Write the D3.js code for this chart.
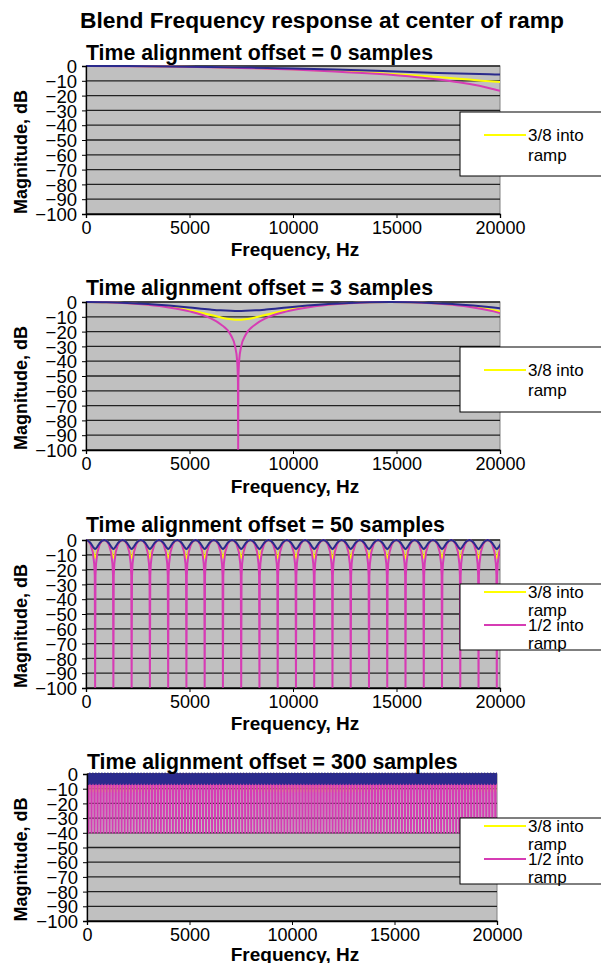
<!DOCTYPE html>
<html>
<head>
<meta charset="utf-8">
<script src="https://cdn.jsdelivr.net/npm/d3@7"></script>
<style>
  body { margin: 0; background: #fff; }
  svg { display: block; }
  text { font-family: "Liberation Sans", Arial, sans-serif; fill: #000; }
</style>
</head>
<body>
<script>
// ---- data ----
const mainTitle = "Blend Frequency response at center of ramp";
const panelTitles = [
  "Time alignment offset = 0 samples",
  "Time alignment offset = 3 samples",
  "Time alignment offset = 50 samples",
  "Time alignment offset = 300 samples"
];
const freqTicks = [0, 5000, 10000, 15000, 20000];
const dbTicks = [0, -10, -20, -30, -40, -50, -60, -70, -80, -90, -100];
const xTitle = "Frequency, Hz";
const yTitle = "Magnitude, dB";

// offset 0 panel
const freq0 = [0, 2000, 4000, 6000, 8000, 10000, 12000, 14000, 16000, 17000, 18000, 19000, 19500, 20000];
const blue0 = [0, -0.07, -0.27, -0.6, -1.07, -1.68, -2.42, -3.27, -4.19, -4.65, -5.08, -5.46, -5.63, -5.8];
const yellow0 = [0, -0.08, -0.33, -0.76, -1.38, -2.22, -3.31, -4.71, -6.46, -7.48, -8.59, -9.78, -10.35, -10.85];
const magenta0 = [0, -0.09, -0.36, -0.82, -1.5, -2.42, -3.66, -5.31, -7.58, -9.07, -10.91, -13.41, -14.99, -16.8];

// offset 3 panel
const freq3 = [0, 1000, 2000, 3000, 4000, 5000, 6000, 6500, 7000, 7200, 7300, 7340, 7350, 7360, 7400, 7500, 7700,
  8200, 8700, 9700, 10700, 11700, 12700, 13700, 14700, 15700, 16700, 17700, 18700, 19700, 20000];
const blue3 = [0, -0.15, -0.6, -1.36, -2.42, -3.73, -5.08, -5.63, -5.95, -6.01, -6.02, -6.02, -6.02, -6.02, -6.02, -6.01, -5.95,
  -5.63, -5.08, -3.73, -2.42, -1.36, -0.6, -0.15, 0, -0.15, -0.6, -1.36, -2.42, -3.73, -4.15];
const yellow3 = [0, -0.19, -0.76, -1.77, -3.31, -5.53, -8.59, -10.35, -11.69, -11.97, -12.04, -12.04, -12.04, -12.04, -12.04, -11.97, -11.69,
  -10.35, -8.59, -5.53, -3.31, -1.77, -0.76, -0.19, 0, -0.19, -0.76, -1.77, -3.31, -5.53, -6.37];
const magenta3 = [0, -0.2, -0.82, -1.92, -3.66, -6.35, -10.91, -14.99, -22.48, -29.87, -39.4, -53.4, -100, -53.4, -39.4, -29.87, -22.48,
  -14.99, -10.91, -6.35, -3.66, -1.92, -0.82, -0.2, 0, -0.2, -0.82, -1.92, -3.66, -6.35, -7.46];

// offset 50 panel: one comb period (882 Hz), repeated across the band
const period50 = 882;
const phase50 = [0, 0.125, 0.25, 0.375, 0.45, 0.48, 0.5, 0.52, 0.55, 0.625, 0.75, 0.875];
const blue50 = [0, -0.5, -2.04, -4.44, -5.71, -5.97, -6.02, -5.97, -5.71, -4.44, -2.04, -0.5];
const yellow50 = [0, -0.64, -2.75, -6.99, -10.69, -11.79, -12.04, -11.79, -10.69, -6.99, -2.75, -0.64];
const magenta50 = [0, -0.69, -3.01, -8.34, -16.11, -24.04, -100, -24.04, -16.11, -8.34, -3.01, -0.69];

// offset 300 panel: comb period 147 Hz, notches bottom out near -40 dB
const period300 = 147;
const phase300 = [0, 0.25, 0.4, 0.5, 0.6, 0.75];
const blue300 = [0, -2.5, -5, -6.5, -5, -2.5];
const yellow300 = [0, -2.75, -7, -12, -7, -2.75];
const magenta300 = [0, -3, -10, -40, -10, -3];

const legendLabels = ["3/8 into ramp", "1/2 into ramp"];

// ---- helpers ----
const zip = (xs, ys) => xs.map((x, i) => [x, ys[i]]);
function tile(period, phases, values, maxF) {
  const pts = [];
  for (let k = 0; k * period <= maxF + period; k++) {
    phases.forEach((p, i) => pts.push([(k + p) * period, values[i]]));
  }
  return pts;
}

const colors = { yellow: "#ffff00", magenta: "#d63cb4", blue: "#2a2a8c" };

const panels = [
  { top: 66, bottom: 214, left: 86, right: 500, titleY: 53, legTop: 112, legBottom: 176, legend: 1, xtY: 35,
    yellow: zip(freq0, yellow0), magenta: zip(freq0, magenta0), blue: zip(freq0, blue0), smooth: true,
    lw: { yellow: 2, magenta: 2, blue: 2 } },
  { top: 302, bottom: 450, left: 86, right: 500, titleY: 288, legTop: 347, legBottom: 412, legend: 1, xtY: 36,
    yellow: zip(freq3, yellow3), magenta: zip(freq3, magenta3), blue: zip(freq3, blue3), smooth: true,
    lw: { yellow: 2, magenta: 2, blue: 2 } },
  { top: 540, bottom: 688, left: 86, right: 500, titleY: 525, legTop: 584, legBottom: 650, legend: 2, xtY: 35,
    yellow: tile(period50, phase50, yellow50, 20000), magenta: tile(period50, phase50, magenta50, 20000),
    blue: tile(period50, phase50, blue50, 20000), smooth: false,
    lw: { yellow: 2, magenta: 2, blue: 2 } },
  { top: 774, bottom: 921, left: 87, right: 497, titleY: 762, legTop: 818, legBottom: 884, legend: 2, xtY: 33,
    yellow: tile(period300, phase300, yellow300, 20000), magenta: tile(period300, phase300, magenta300, 20000),
    blue: tile(period300, phase300, blue300, 20000), smooth: false,
    lw: { yellow: 1.9, magenta: 1.9, blue: 2.8 } }
];

const svg = d3.select("body").append("svg")
  .attr("width", 601)
  .attr("height", 963);

svg.append("text")
  .attr("x", 322).attr("y", 20)
  .attr("text-anchor", "middle").attr("dominant-baseline", "central")
  .style("font-size", "22.8px").style("font-weight", "bold")
  .text(mainTitle);

panels.forEach((p, idx) => {
  const x = d3.scaleLinear().domain([0, 20000]).range([p.left, p.right]);
  const y = d3.scaleLinear().domain([-100, 0]).range([p.bottom, p.top]);
  const g = svg.append("g");

  // plot area
  g.append("rect")
    .attr("x", p.left).attr("y", p.top)
    .attr("width", p.right - p.left).attr("height", p.bottom - p.top)
    .attr("fill", "#c0c0c0").attr("stroke", "#808080");

  // gridlines
  g.selectAll(".grid").data(dbTicks).join("line")
    .attr("x1", p.left).attr("x2", p.right)
    .attr("y1", d => y(d)).attr("y2", d => y(d))
    .attr("stroke", "#222").attr("stroke-width", 1.3);

  // series
  const clipId = "clip" + idx;
  g.append("clipPath").attr("id", clipId).append("rect")
    .attr("x", p.left).attr("y", p.top - 2)
    .attr("width", p.right - p.left).attr("height", p.bottom - p.top + 2);

  const line = d3.line()
    .x(d => x(d[0]))
    .y(d => y(d[1]))
    .curve(p.smooth ? d3.curveMonotoneX : d3.curveLinear);

  ["yellow", "magenta", "blue"].forEach(k => {
    g.append("path")
      .attr("d", line(p[k]))
      .attr("clip-path", `url(#${clipId})`)
      .attr("fill", "none")
      .attr("stroke", colors[k])
      .attr("stroke-width", p.lw[k])
      .attr("stroke-linejoin", "round");
  });

  // axes
  const yAxis = d3.axisLeft(y).tickValues(dbTicks).tickSize(4).tickFormat(d3.format("d"));
  const ya = g.append("g").attr("transform", `translate(${p.left},0)`).call(yAxis);
  const xAxis = d3.axisBottom(x).tickValues(freqTicks).tickSize(4).tickFormat(d3.format("d"));
  const xa = g.append("g").attr("transform", `translate(0,${p.bottom})`).call(xAxis);
  [ya, xa].forEach(a => {
    a.select(".domain").attr("stroke", "#000").attr("stroke-width", 1.3);
    a.selectAll(".tick line").attr("stroke", "#000");
  });
  ya.selectAll(".tick text").style("font-size", "18.5px").attr("x", -9).attr("dy", "0.36em");
  xa.selectAll(".tick text").style("font-size", "18px").attr("y", 7);
  [ya, xa].forEach(a => a.selectAll(".tick text").style("font-family", '"Liberation Sans", Arial, sans-serif').attr("fill", "#000"));

  // titles
  g.append("text")
    .attr("x", p.left).attr("y", p.titleY)
    .attr("dominant-baseline", "central")
    .style("font-size", "21.3px").style("font-weight", "bold")
    .text(panelTitles[idx]);

  g.append("text")
    .attr("x", 295).attr("y", p.bottom + p.xtY)
    .attr("text-anchor", "middle").attr("dominant-baseline", "central")
    .style("font-size", "19px").style("font-weight", "bold")
    .text(xTitle);

  g.append("text")
    .attr("transform", `translate(21,${(p.top + p.bottom) / 2 + 12}) rotate(-90)`)
    .attr("text-anchor", "middle").attr("dominant-baseline", "central")
    .style("font-size", "18px").style("font-weight", "bold")
    .text(yTitle);

  // legend (cut off at the right edge as in the source)
  g.append("rect")
    .attr("x", 460).attr("y", p.legTop)
    .attr("width", 200).attr("height", p.legBottom - p.legTop)
    .attr("fill", "#fff").attr("stroke", "#000");

  const entries = p.legend === 1
    ? [{ label: legendLabels[0], color: colors.yellow, dy: 23, gap: 20 }]
    : [{ label: legendLabels[0], color: colors.yellow, dy: 8, gap: 18 },
       { label: legendLabels[1], color: colors.magenta, dy: 41, gap: 18 }];

  entries.forEach(e => {
    const ly = p.legTop + e.dy;
    g.append("line")
      .attr("x1", 484).attr("x2", 526).attr("y1", ly).attr("y2", ly)
      .attr("stroke", e.color).attr("stroke-width", 2);
    const words = e.label.split(" ");
    const t = g.append("text").style("font-size", "17px");
    t.append("tspan").attr("x", 528).attr("y", ly).attr("dominant-baseline", "central")
      .text(words[0] + " " + words[1]);
    t.append("tspan").attr("x", 528).attr("y", ly + e.gap).attr("dominant-baseline", "central")
      .text(words[2]);
  });
});
</script>
</body>
</html>
